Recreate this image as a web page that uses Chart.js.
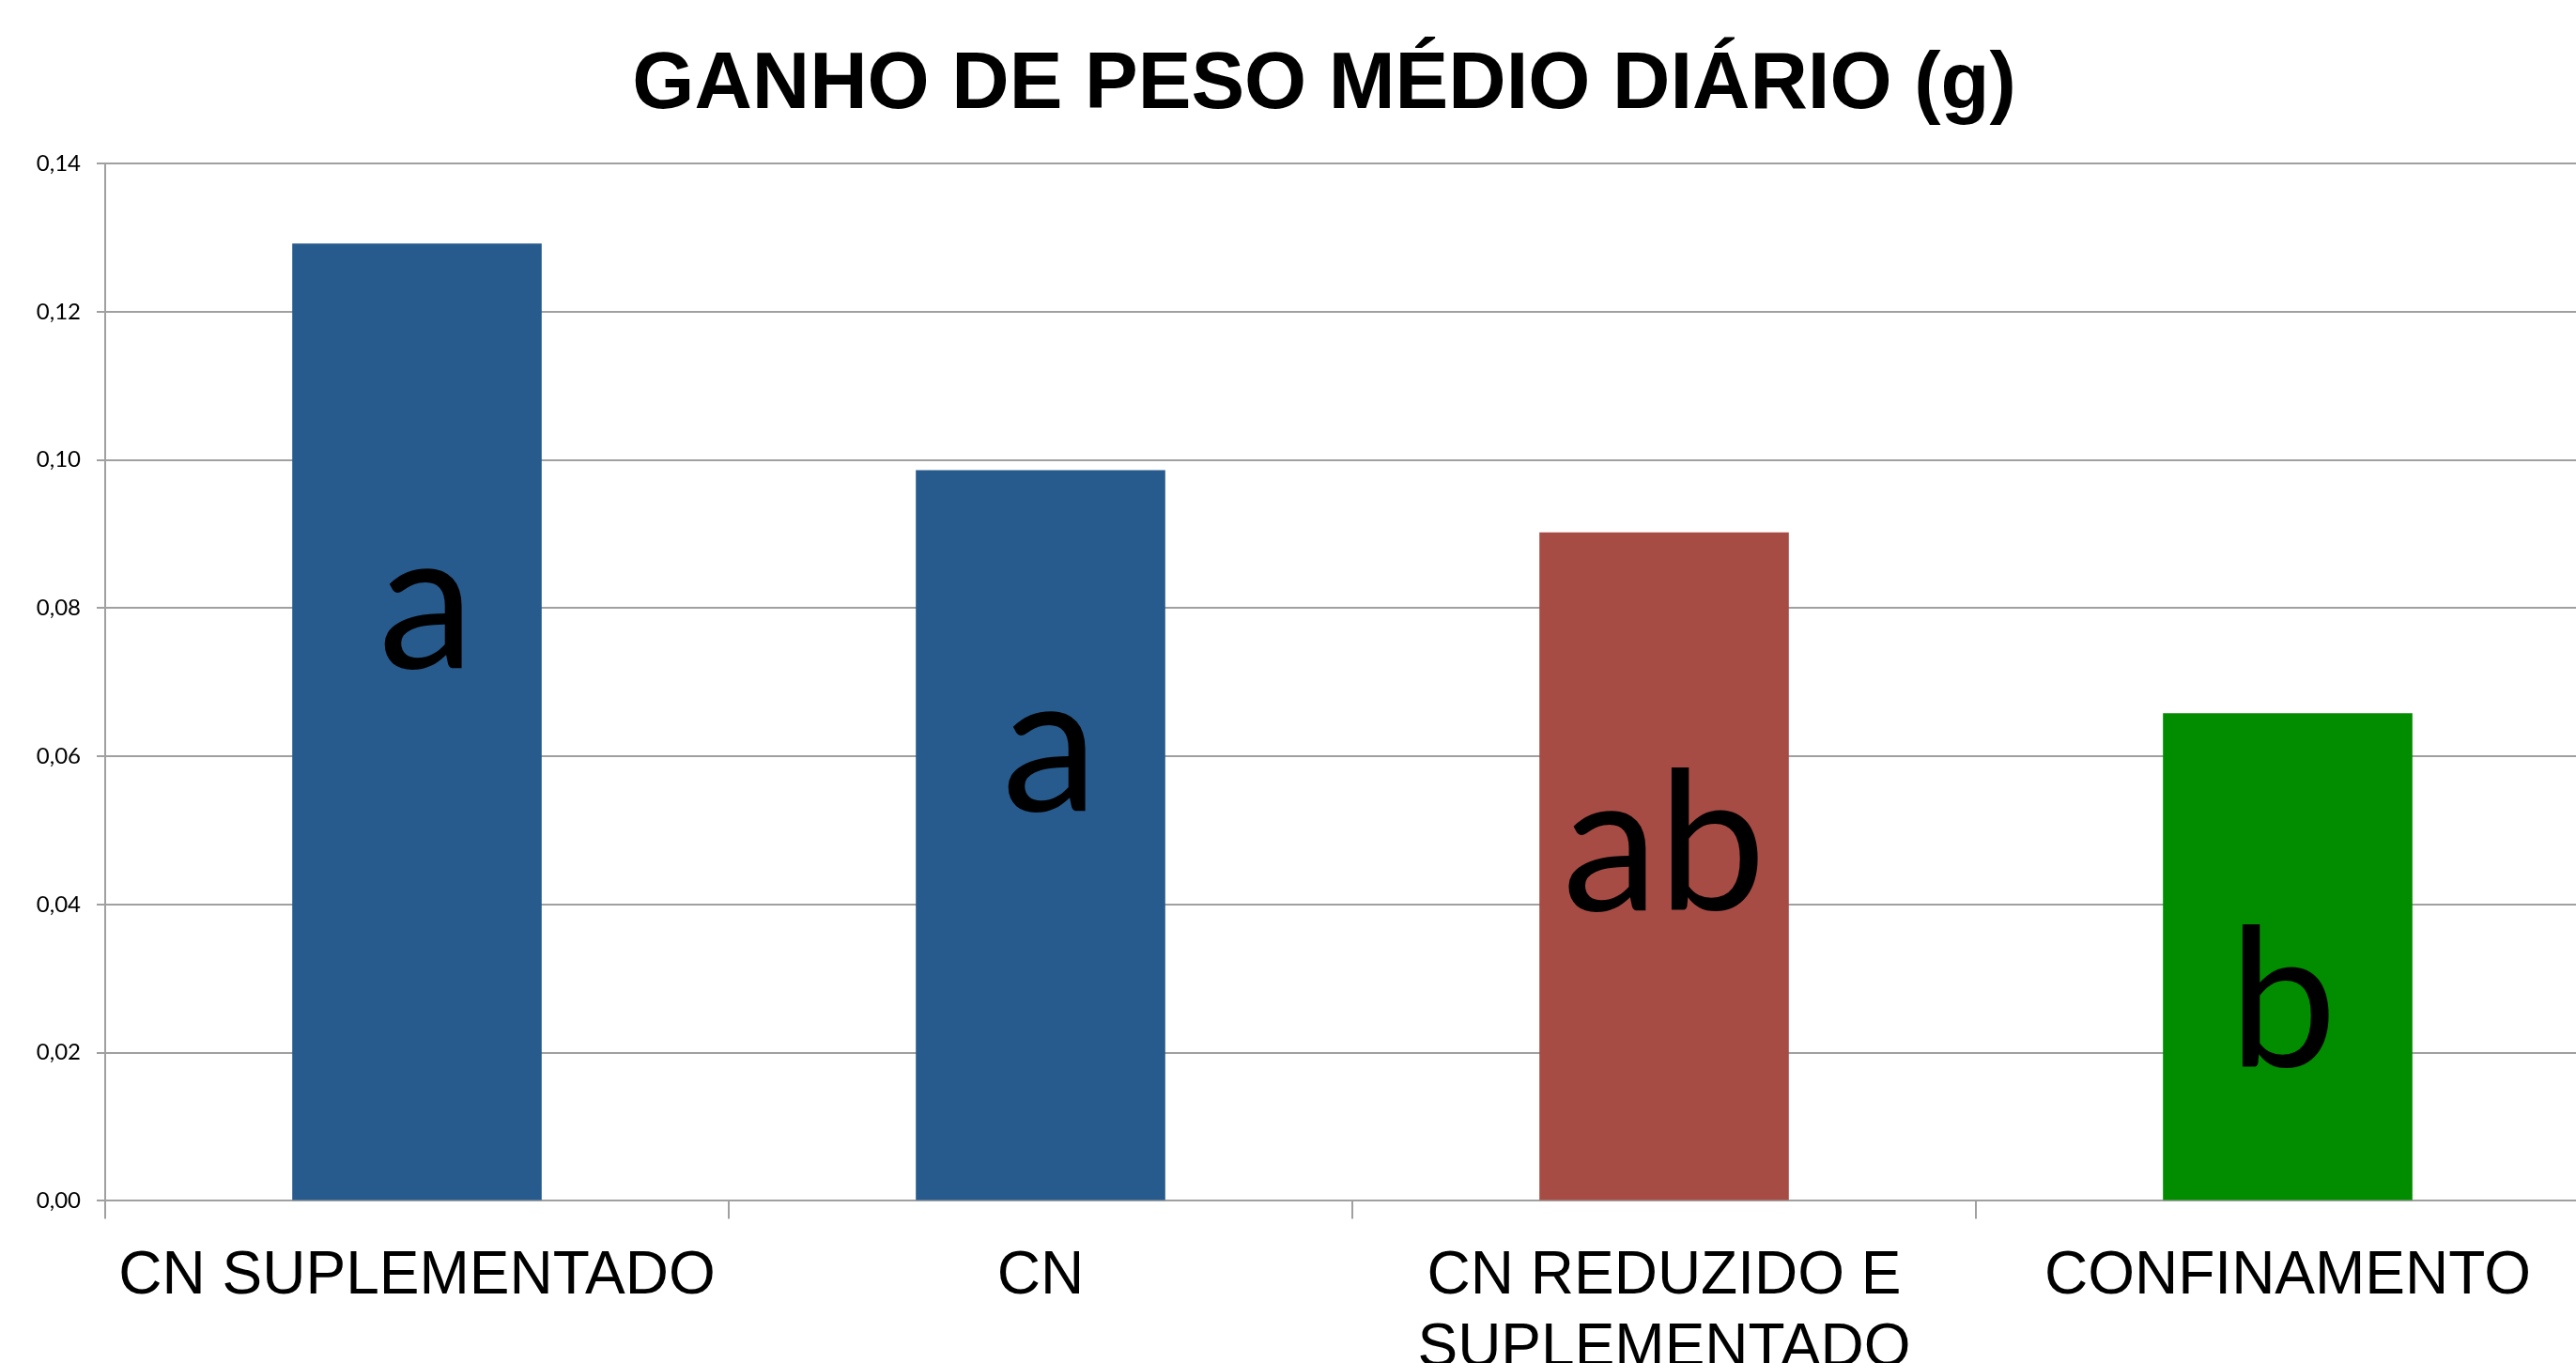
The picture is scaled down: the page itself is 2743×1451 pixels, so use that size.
<!DOCTYPE html>
<html lang="pt">
<head>
<meta charset="utf-8">
<title>Ganho de peso médio diário</title>
<script src="https://cdn.jsdelivr.net/npm/chart.js@4.4.1/dist/chart.umd.min.js"></script>
<style>
    html, body {
        margin: 0;
        padding: 0;
        background: #ffffff;
        overflow: hidden;
    }
    #wrap {
        position: absolute;
        left: 0;
        top: 0;
        width: 2822px;
        height: 1499px;
    }
</style>
</head>
<body>
<div id="wrap"><canvas id="gainChart"></canvas></div>
<script>
const categories = [["CN SUPLEMENTADO"], ["CN"], ["CN REDUZIDO E", "SUPLEMENTADO"], ["CONFINAMENTO"]];
const dailyGain = [0.1292, 0.0986, 0.0902, 0.0658];
const groupLetters = ["a", "a", "ab", "b"];
const yTickValues = [0, 0.02, 0.04, 0.06, 0.08, 0.10, 0.12, 0.14];

const barColors = ["#275b8d", "#275b8d", "#a74b45", "#028c00"];
const gridColor = "#a0a0a0";

// letters from the statistical test, drawn inside each bar
const letterPlugin = {
    id: "groupLetters",
    afterLayout(chart) {
        // the title sits a little right of the canvas centre
        if (chart.titleBlock) chart.titleBlock.left = 52;
    },
    afterDatasetsDraw(chart, args, opts) {
        const ctx = chart.ctx;
        const meta = chart.getDatasetMeta(0);
        const yScale = chart.scales.y;
        ctx.save();
        ctx.font = opts.font;
        ctx.fillStyle = "#000000";
        ctx.textAlign = "center";
        ctx.textBaseline = "alphabetic";
        meta.data.forEach((bar, i) => {
            const y = yScale.getPixelForValue(opts.baselines[i]);
            ctx.fillText(groupLetters[i], bar.x + (opts.shiftX[i] || 0), y);
        });
        ctx.restore();
    }
};

const gainChart = new Chart(document.getElementById("gainChart"), {
    type: "bar",
    data: {
        labels: categories,
        datasets: [
            {
                label: "Ganho de peso médio diário",
                data: dailyGain,
                backgroundColor: barColors,
                borderWidth: 0,
                barPercentage: 0.4,
                categoryPercentage: 1.0
            }
        ]
    },
    options: {
        responsive: true,
        maintainAspectRatio: false,
        animation: false,
        layout: {
            padding: { left: 0, right: 54, top: 0, bottom: 0 }
        },
        plugins: {
            legend: { display: false },
            tooltip: { enabled: false },
            title: {
                display: true,
                text: "GANHO DE PESO MÉDIO DIÁRIO (g)",
                color: "#000000",
                font: { family: "'Liberation Sans', Arial, sans-serif", size: 85, weight: "bold", lineHeight: 1.2 },
                padding: { top: 41, bottom: 31 }
            },
            groupLetters: {
                font: "205px Lato, 'Open Sans', sans-serif",
                baselines: [0.0719, 0.0526, 0.0392, 0.0181],
                shiftX: [10, 10, 0, -5]
            }
        },
        scales: {
            x: {
                offset: true,
                grid: {
                    offset: true,
                    drawOnChartArea: false,
                    drawTicks: true,
                    tickLength: 19,
                    color: gridColor,
                    lineWidth: 2
                },
                border: { display: true, color: gridColor, width: 2 },
                ticks: {
                    color: "#000000",
                    padding: 24,
                    maxRotation: 0,
                    autoSkip: false,
                    font: { family: "'Liberation Sans', Arial, sans-serif", size: 64, lineHeight: 1.2 }
                }
            },
            y: {
                min: 0,
                max: 0.14,
                afterBuildTicks: (scale) => {
                    scale.ticks = yTickValues.map((v) => ({ value: v }));
                },
                afterFit: (scale) => {
                    scale.width = 112;
                },
                grid: {
                    color: gridColor,
                    lineWidth: 2,
                    drawTicks: true,
                    tickLength: 9
                },
                border: { display: true, color: gridColor, width: 2 },
                ticks: {
                    color: "#000000",
                    padding: 17,
                    font: { family: "Lato, 'Open Sans', sans-serif", size: 24 },
                    callback: (value) => Number(value).toFixed(2).replace(".", ",")
                }
            }
        }
    },
    plugins: [letterPlugin]
});
</script>
</body>
</html>
